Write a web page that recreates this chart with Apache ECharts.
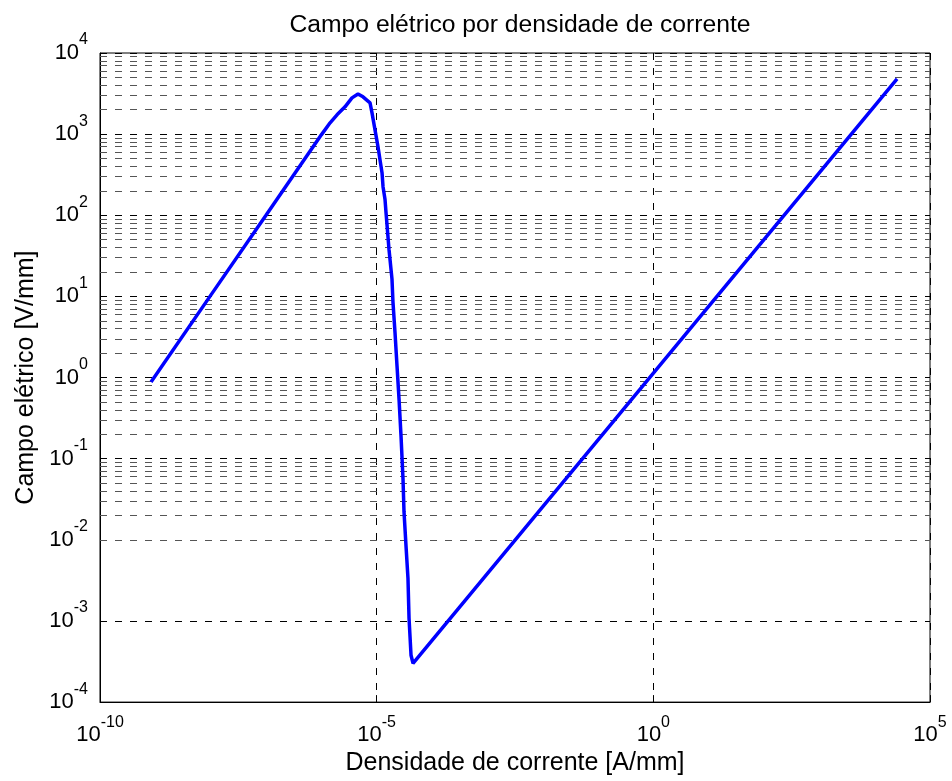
<!DOCTYPE html>
<html>
<head>
<meta charset="utf-8">
<script src="https://cdn.jsdelivr.net/npm/echarts@6/dist/echarts.min.js"></script>
<style>
html,body{margin:0;padding:0;background:#fff;}
#c{width:952px;height:781px;}
</style>
</head>
<body>
<div id="c"></div>
<script>
// Current density [A/mm]
var densidade = [
  8.36e-10, 1e-8, 1e-7, 1e-6, 1.44e-6, 1.92e-6, 2.68e-6, 3.58e-6, 4.60e-6, 5.66e-6,
  7.59e-6, 8.24e-6, 9.33e-6, 1.057e-5, 1.148e-5, 1.25e-5, 1.303e-5, 1.416e-5, 1.476e-5,
  1.671e-5, 1.892e-5, 1.972e-5, 2.143e-5, 2.333e-5, 2.535e-5, 2.754e-5, 2.992e-5,
  3.119e-5, 3.388e-5, 3.681e-5, 3.846e-5, 4.178e-5, 4.539e-5,
  2.54e4
];
// Electric field [V/mm]
var campo = [
  0.88, 10.3, 100, 980, 1380, 1730, 2170, 2800, 3130, 2880,
  2430, 1830, 1130, 700, 484, 335, 225, 156, 108,
  37.9, 16.3, 8.47, 3.62, 1.38, 0.545, 0.191, 0.0566,
  0.0222, 0.00849, 0.00334, 0.00108, 0.000378, 0.000301,
  4790
];
var titulo = 'Campo elétrico por densidade de corrente';
var nomeX = 'Densidade de corrente [A/mm]';
var nomeY = 'Campo elétrico [V/mm]';
var yDecadas = [-4, -3, -2, -1, 0, 1, 2, 3];
var yMultiplos = [2, 3, 4, 5, 6, 7, 8, 9];

var pontos = densidade.map(function (j, i) { return [j, campo[i]]; });
var minorLines = [];
yDecadas.forEach(function (d) {
  yMultiplos.forEach(function (m) { minorLines.push({ yAxis: m * Math.pow(10, d) }); });
});

var FONT = 'Liberation Sans, Arial, Helvetica, sans-serif';
function fmt(v) {
  var e = Math.round(Math.log(v) / Math.LN10);
  return '{b|10}{s|' + e + '}';
}
var rich = {
  b: { fontSize: 22, fontFamily: FONT, color: '#000' },
  s: { fontSize: 16, fontFamily: FONT, color: '#000', padding: [0, 0, 26, 0] }
};
var dash = [7, 8];

var chart = echarts.init(document.getElementById('c'), null, { renderer: 'canvas' });
chart.setOption({
  backgroundColor: '#fff',
  animation: false,
  title: {
    text: titulo, left: 515, top: 8, textAlign: 'center',
    textStyle: { fontSize: 24.7, fontWeight: 'normal', color: '#000', fontFamily: FONT }
  },
  grid: { left: 100, right: 22, top: 53, bottom: 77, show: true, borderColor: '#000', borderWidth: 1, backgroundColor: 'transparent' },
  xAxis: {
    type: 'log', logBase: 10, min: 1e-10, max: 1e5, interval: 5,
    name: nomeX, nameLocation: 'middle', nameGap: 44,
    nameTextStyle: { fontSize: 25, color: '#000', fontFamily: FONT },
    axisLine: { show: true, lineStyle: { color: '#000', width: 1 } },
    axisTick: { show: true, inside: true, length: 7, lineStyle: { color: '#000' } },
    axisLabel: { formatter: fmt, rich: rich, margin: 12, color: '#000' },
    splitLine: { show: true, lineStyle: { color: '#000', type: dash, width: 1 } },
    minorTick: { show: false }, minorSplitLine: { show: false }
  },
  yAxis: {
    type: 'log', logBase: 10, min: 1e-4, max: 1e4, interval: 1,
    name: nomeY, nameLocation: 'middle', nameGap: 61, nameRotate: 90,
    nameTextStyle: { fontSize: 25, color: '#000', fontFamily: FONT },
    axisLine: { show: true, lineStyle: { color: '#000', width: 1 } },
    axisTick: { show: true, inside: true, length: 7, lineStyle: { color: '#000' } },
    axisLabel: { formatter: fmt, rich: rich, margin: 12, color: '#000' },
    splitLine: { show: true, lineStyle: { color: '#000', type: dash, width: 1 } },
    minorTick: { show: false }, minorSplitLine: { show: false }
  },
  series: [
    {
      type: 'line', z: 1, silent: true, showSymbol: false, symbol: 'none',
      data: [], lineStyle: { opacity: 0 },
      markLine: {
        silent: true, symbol: ['none', 'none'], label: { show: false }, animation: false,
        lineStyle: { color: '#555', type: dash, width: 1 },
        data: minorLines
      }
    },
    {
      type: 'line', z: 5, showSymbol: false, symbol: 'none', smooth: false,
      data: pontos,
      lineStyle: { color: '#0000ff', width: 3.5 }
    }
  ]
});
</script>
</body>
</html>
